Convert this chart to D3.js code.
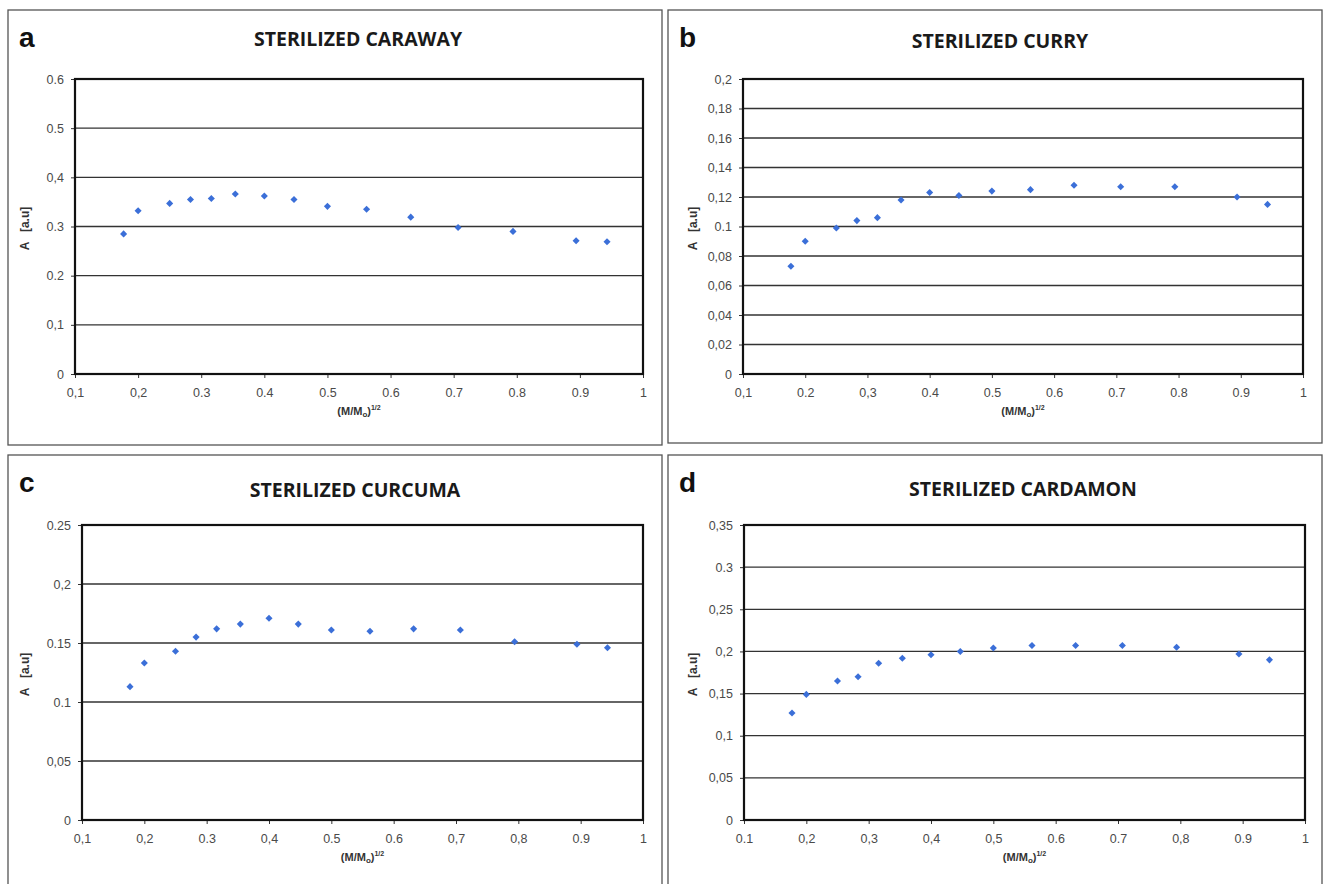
<!DOCTYPE html>
<html lang="en">
<head>
<meta charset="utf-8">
<title>Sterilized spices</title>
<script src="https://d3js.org/d3.v7.min.js"></script>
<style>
  body { margin: 0; background: white; }
  .tick text { font-family: "Liberation Sans", Arial, sans-serif; font-size: 12.5px; fill: #4a4a4a; }
</style>
</head>
<body>
<div id="container"></div>
<script type="text/javascript">

// data (x = (M/Mo)^1/2, y = A [a.u])
var xValues  = [0.177, 0.2, 0.25, 0.283, 0.316, 0.354, 0.4, 0.447, 0.5, 0.562, 0.632, 0.707, 0.794, 0.894, 0.943];
var caraway  = [0.285, 0.332, 0.347, 0.355, 0.357, 0.366, 0.362, 0.355, 0.341, 0.335, 0.319, 0.298, 0.29, 0.271, 0.269];
var curry    = [0.073, 0.09, 0.099, 0.104, 0.106, 0.118, 0.123, 0.121, 0.124, 0.125, 0.128, 0.127, 0.127, 0.12, 0.115];
var curcuma  = [0.113, 0.133, 0.143, 0.155, 0.162, 0.166, 0.171, 0.166, 0.161, 0.16, 0.162, 0.161, 0.151, 0.149, 0.146];
var cardamon = [0.127, 0.149, 0.165, 0.17, 0.186, 0.192, 0.196, 0.2, 0.204, 0.207, 0.207, 0.207, 0.205, 0.197, 0.19];

var titles  = ["STERILIZED CARAWAY", "STERILIZED CURRY", "STERILIZED CURCUMA", "STERILIZED CARDAMON"];
var letters = ["a", "b", "c", "d"];

// tick values and labels (as printed in the figure)
var xTicks = [0.1, 0.2, 0.3, 0.4, 0.5, 0.6, 0.7, 0.8, 0.9, 1];
var xLabelsA = ["0,1", "0,2", "0.3", "0.4", "0.5", "0.6", "0.7", "0.8", "0.9", "1"];
var xLabelsB = ["0,1", "0.2", "0,3", "0.4", "0.5", "0.6", "0.7", "0.8", "0.9", "1"];
var xLabelsC = ["0,1", "0,2", "0.3", "0,4", "0.5", "0.6", "0,7", "0,8", "0.9", "1"];
var xLabelsD = ["0.1", "0,2", "0,3", "0,4", "0,5", "0.6", "0.7", "0,8", "0.9", "1"];

var yTicksA = [0, 0.1, 0.2, 0.3, 0.4, 0.5, 0.6];
var yLabelsA = ["0", "0,1", "0.2", "0.3", "0,4", "0.5", "0.6"];
var yTicksB = [0, 0.02, 0.04, 0.06, 0.08, 0.1, 0.12, 0.14, 0.16, 0.18, 0.2];
var yLabelsB = ["0", "0,02", "0,04", "0,06", "0,08", "0.1", "0,12", "0,14", "0,16", "0,18", "0,2"];
var yTicksC = [0, 0.05, 0.1, 0.15, 0.2, 0.25];
var yLabelsC = ["0", "0,05", "0.1", "0.15", "0,2", "0.25"];
var yTicksD = [0, 0.05, 0.1, 0.15, 0.2, 0.25, 0.3, 0.35];
var yLabelsD = ["0", "0,05", "0,1", "0,15", "0,2", "0,25", "0.3", "0,35"];

// layout
var w = 1325, h = 884;
var panels = [
  {frame: [8, 10, 654, 435],    plot: [75, 79, 643, 374],    title: [358, 46],   ylab: 29,  series: caraway,  yTicks: yTicksA, yLabels: yLabelsA, xLabels: xLabelsA},
  {frame: [668, 10, 654, 433],  plot: [743, 79, 1303, 374],  title: [1000, 48],  ylab: 697, series: curry,    yTicks: yTicksB, yLabels: yLabelsB, xLabels: xLabelsB},
  {frame: [8, 455, 654, 440],   plot: [82, 525, 643, 820],   title: [355, 497],  ylab: 29,  series: curcuma,  yTicks: yTicksC, yLabels: yLabelsC, xLabels: xLabelsC},
  {frame: [668, 455, 654, 440], plot: [744, 525, 1305, 820], title: [1023, 496], ylab: 697, series: cardamon, yTicks: yTicksD, yLabels: yLabelsD, xLabels: xLabelsD}
];

var svg = d3.select("div#container").append("svg")
  .attr("width", w).attr("height", h)
  .style("background", "white");

panels.forEach(function(p, i) {
  var g = svg.append("g");
  var x0 = p.plot[0], y0 = p.plot[1], x1 = p.plot[2], y1 = p.plot[3];

  // panel frame
  g.append("rect")
    .attr("x", p.frame[0]).attr("y", p.frame[1])
    .attr("width", p.frame[2]).attr("height", p.frame[3])
    .attr("fill", "none").attr("stroke", "#555").attr("stroke-width", 1.3);

  var x = d3.scaleLinear().domain([0.1, 1]).range([x0, x1]);
  var y = d3.scaleLinear().domain([0, d3.max(p.yTicks)]).range([y1, y0]);

  // gridlines
  g.selectAll("line.grid")
    .data(p.yTicks.slice(1))
    .enter().append("line")
    .attr("class", "grid")
    .attr("x1", x0).attr("x2", x1)
    .attr("y1", function(d) { return y(d); })
    .attr("y2", function(d) { return y(d); })
    .attr("stroke", "#333").attr("stroke-width", 1.3);

  // axes
  var xAxis = d3.axisBottom(x).tickValues(xTicks).tickSize(4).tickPadding(8)
    .tickFormat(function(d, k) { return p.xLabels[k]; });
  var yAxis = d3.axisLeft(y).tickValues(p.yTicks).tickSize(4).tickPadding(7)
    .tickFormat(function(d, k) { return p.yLabels[k]; });

  var gx = g.append("g").attr("transform", "translate(0," + y1 + ")").call(xAxis);
  var gy = g.append("g").attr("transform", "translate(" + x0 + ",0)").call(yAxis);
  gx.select(".domain").remove();
  gy.select(".domain").remove();
  gx.selectAll(".tick line").attr("stroke", "#333");
  gy.selectAll(".tick line").attr("stroke", "#333");
  gx.selectAll(".tick text").attr("dy", "0.9em");

  // plot border
  g.append("rect")
    .attr("x", x0).attr("y", y0)
    .attr("width", x1 - x0).attr("height", y1 - y0)
    .attr("fill", "none").attr("stroke", "#111").attr("stroke-width", 2.2);

  // points
  g.selectAll("path.pt")
    .data(xValues.map(function(v, k) { return [v, p.series[k]]; }))
    .enter().append("path")
    .attr("class", "pt")
    .attr("d", d3.symbol().type(d3.symbolDiamond2).size(32))
    .attr("transform", function(d) { return "translate(" + x(d[0]) + "," + y(d[1]) + ")"; })
    .attr("fill", "#3b6fd8");

  // title
  g.append("text")
    .attr("x", p.title[0]).attr("y", p.title[1])
    .attr("text-anchor", "middle")
    .style("font-family", "'Open Sans', 'Noto Sans', sans-serif")
    .style("font-weight", "700").style("font-size", "19.5px")
    .attr("fill", "#1a1a1a")
    .text(titles[i]);

  // panel letter
  g.append("text")
    .attr("x", p.frame[0] + 11).attr("y", p.frame[1] + 37)
    .style("font-family", "'Liberation Sans', Arial, sans-serif")
    .style("font-weight", "bold").style("font-size", "28px")
    .attr("fill", "#111")
    .text(letters[i]);

  // y label
  g.append("text")
    .attr("transform", "translate(" + p.ylab + "," + ((y0 + y1) / 2 + 2) + ")rotate(-90)")
    .attr("text-anchor", "middle")
    .style("font-family", "'Liberation Sans', Arial, sans-serif")
    .style("font-weight", "bold").style("font-size", "12px")
    .attr("fill", "#333")
    .attr("xml:space", "preserve")
    .text("A   [a.u]");

  // x label (M/Mo)^1/2
  var xl = g.append("text")
    .attr("x", (x0 + x1) / 2).attr("y", y1 + 41)
    .attr("text-anchor", "middle")
    .style("font-family", "'Liberation Sans', Arial, sans-serif")
    .style("font-weight", "bold").style("font-size", "11px")
    .attr("fill", "#333");
  xl.append("tspan").text("(M/M");
  xl.append("tspan").attr("dy", 2).style("font-size", "8px").text("o");
  xl.append("tspan").attr("dy", -2).text(")");
  xl.append("tspan").attr("dy", -5).style("font-size", "7px").text("1/2");
});

</script>
</body>
</html>
